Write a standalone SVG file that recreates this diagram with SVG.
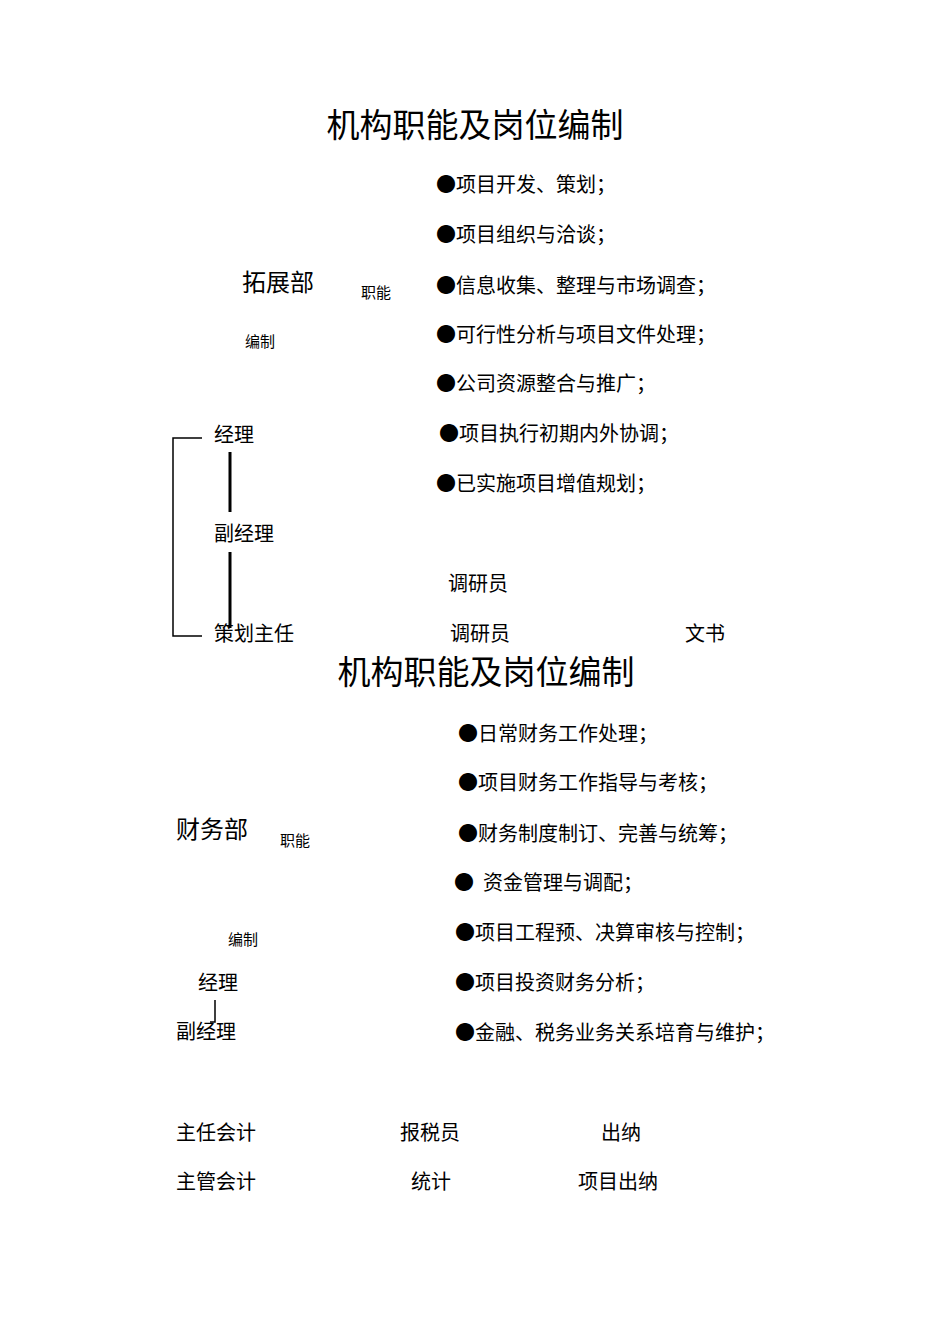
<svg xmlns="http://www.w3.org/2000/svg" width="950" height="1344" viewBox="0 0 950 1344">
<style>
text{font-family:"Noto Sans CJK SC","Liberation Serif",serif;fill:#000}
.t{font-size:33px;text-anchor:middle}
.b{font-size:20px}
.d{font-size:24px}
.s{font-size:15px}
</style>
<rect width="950" height="1344" fill="#fff"/>
<g id="title1"><text class="t" x="475" y="137">机构职能及岗位编制</text></g>
<g id="func1">
<text class="b" x="436" y="192">●项目开发、策划；</text>
<text class="b" x="436" y="242">●项目组织与洽谈；</text>
<text class="b" x="436" y="293">●信息收集、整理与市场调查；</text>
<text class="b" x="436" y="342">●可行性分析与项目文件处理；</text>
<text class="b" x="436" y="391">●公司资源整合与推广；</text>
<text class="b" x="439" y="441">●项目执行初期内外协调；</text>
<text class="b" x="436" y="491">●已实施项目增值规划；</text>
</g>
<g id="dept1"><text class="d" x="242" y="291">拓展部</text><text class="s" x="361" y="298">职能</text><text class="s" x="245" y="347">编制</text></g>
<g id="n-jl"><text class="b" x="214" y="442">经理</text></g>
<g id="n-fjl"><text class="b" x="214" y="541">副经理</text></g>
<g id="n-chzr"><text class="b" x="214" y="641">策划主任</text></g>
<g id="n-dy1"><text class="b" x="448" y="591">调研员</text></g>
<g id="n-dy2"><text class="b" x="450" y="641">调研员</text></g>
<g id="n-ws"><text class="b" x="685" y="641">文书</text></g>
<g id="connectors" stroke="#000" fill="none">
<path d="M202 438H173V636H202" stroke-width="1.5"/>
<path d="M230 452V512M230 552V628" stroke-width="3"/>
<path d="M215 1000V1022H210" stroke-width="1.5"/>
</g>
<g id="title2"><text class="t" x="486" y="684">机构职能及岗位编制</text></g>
<g id="func2">
<text class="b" x="458" y="741">●日常财务工作处理；</text>
<text class="b" x="458" y="790">●项目财务工作指导与考核；</text>
<text class="b" x="458" y="841">●财务制度制订、完善与统筹；</text>
<text class="b" x="454" y="890" xml:space="preserve">●  资金管理与调配；</text>
<text class="b" x="455" y="940">●项目工程预、决算审核与控制；</text>
<text class="b" x="455" y="990">●项目投资财务分析；</text>
<text class="b" x="455" y="1040">●金融、税务业务关系培育与维护；</text>
</g>
<g id="dept2"><text class="d" x="176" y="838">财务部</text><text class="s" x="280" y="846">职能</text><text class="s" x="228" y="945">编制</text></g>
<g id="n2-jl"><text class="b" x="198" y="990">经理</text></g>
<g id="n2-fjl"><text class="b" x="176" y="1039">副经理</text></g>
<g id="n2-zrkj"><text class="b" x="176" y="1140">主任会计</text></g>
<g id="n2-bsy"><text class="b" x="400" y="1140">报税员</text></g>
<g id="n2-cn"><text class="b" x="601" y="1140">出纳</text></g>
<g id="n2-zgkj"><text class="b" x="176" y="1189">主管会计</text></g>
<g id="n2-tj"><text class="b" x="411" y="1189">统计</text></g>
<g id="n2-xmcn"><text class="b" x="578" y="1189">项目出纳</text></g>
</svg>
